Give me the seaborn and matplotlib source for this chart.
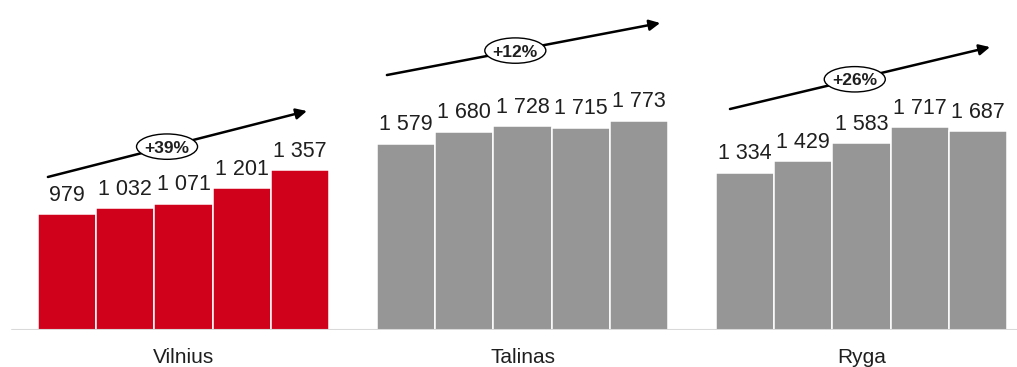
import matplotlib
matplotlib.use("Agg")
import matplotlib.pyplot as plt
from matplotlib.patches import Ellipse
import seaborn as sns
import pandas as pd

# Values per city, five consecutive periods each
cities = ["Vilnius", "Talinas", "Ryga"]
vilnius = [979, 1032, 1071, 1201, 1357]
talinas = [1579, 1680, 1728, 1715, 1773]
ryga = [1334, 1429, 1583, 1717, 1687]
series = [vilnius, talinas, ryga]
periods = [1, 2, 3, 4, 5]

city_colors = ["#D0021B", "#969696", "#969696"]
text_color = "#1f1f1f"

sns.set_style("white")
plt.rcParams["font.family"] = ["Liberation Sans", "DejaVu Sans"]

rows = []
for city, vals in zip(cities, series):
    for p, v in zip(periods, vals):
        rows.append({"city": city, "period": p, "value": v})
df = pd.DataFrame(rows)

W, H = 1017, 367
fig = plt.figure(figsize=(W / 100, H / 100), dpi=100)
ax = fig.add_axes([0, 37 / H, 1, 330 / H])

sns.barplot(
    data=df, x="city", y="value", hue="period", order=cities,
    hue_order=periods, palette=["#969696"] * len(periods),
    width=0.858, gap=0, saturation=1, legend=False,
    edgecolor="white", linewidth=1.1, errorbar=None, ax=ax,
)

# colour every bar by the city it belongs to
for patch in ax.patches:
    idx = int(round(patch.get_x() + patch.get_width() / 2))
    patch.set_facecolor(city_colors[idx])

# value labels above the bars
for container in ax.containers:
    for bar in container:
        v = int(round(bar.get_height()))
        ax.annotate(
            f"{v:,}".replace(",", " "),
            (bar.get_x() + bar.get_width() / 2, bar.get_height()),
            xytext=(0, 9.6), textcoords="offset points",
            ha="center", va="baseline", fontsize=15.5, color=text_color,
        )

ax.set_xlim(-0.5413, 2.4587)
ax.set_ylim(0, 2797)

# growth arrows with first-to-last change
arrows = [
    ((-0.400, 1297), (0.364, 1856), 0.46),
    ((0.600, 2161), (1.406, 2602), 0.47),
    ((1.612, 1873), (2.379, 2398), 0.48),
]
for vals, (start, end, t) in zip(series, arrows):
    ax.annotate(
        "", xy=end, xytext=start,
        arrowprops=dict(arrowstyle="-|>", color="black", lw=1.8,
                        mutation_scale=16, shrinkA=0, shrinkB=0),
        zorder=4,
    )
    cx = start[0] + t * (end[0] - start[0])
    cy = start[1] + t * (end[1] - start[1])
    ax.add_patch(Ellipse((cx, cy), width=0.18, height=215,
                         facecolor="white", edgecolor="black", lw=1.0, zorder=5))
    pct = round((vals[-1] / vals[0] - 1) * 100)
    ax.text(cx, cy, f"+{pct}%", ha="center", va="center_baseline",
            fontsize=12.5, fontweight="bold", color=text_color, zorder=6)

ax.axhline(0, xmin=12 / W, xmax=1, color="#d9d9d9", lw=1.5, zorder=3)

sns.despine(ax=ax, left=True, bottom=True)
ax.set_yticks([])
ax.set_xlabel("")
ax.set_ylabel("")
ax.tick_params(axis="x", length=0, pad=13, labelsize=15, labelcolor=text_color)

fig.savefig("out.png", dpi=100)
